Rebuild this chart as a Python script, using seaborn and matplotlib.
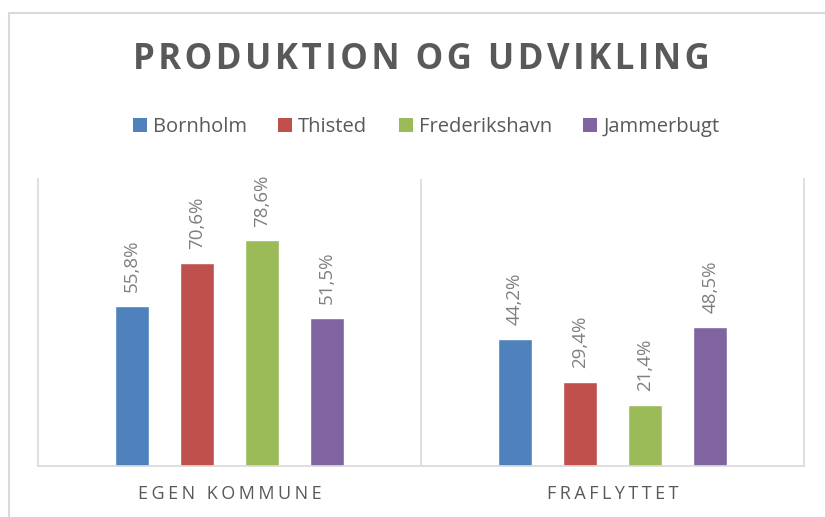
import pandas as pd
import matplotlib.pyplot as plt
import seaborn as sns
from matplotlib.patches import Patch, Rectangle

# Data
categories = ['EGEN KOMMUNE', 'FRAFLYTTET']
regions = ['Bornholm', 'Thisted', 'Frederikshavn', 'Jammerbugt']
bornholm = [55.8, 44.2]
thisted = [70.6, 29.4]
frederikshavn = [78.6, 21.4]
jammerbugt = [51.5, 48.5]
colors = ['#4F81BD', '#C0504D', '#9BBB59', '#8064A2']

rows = []
for region, vals in zip(regions, [bornholm, thisted, frederikshavn, jammerbugt]):
    for cat, v in zip(categories, vals):
        rows.append({'category': cat, 'region': region, 'value': v})
df = pd.DataFrame(rows)

sns.set_style('white')
plt.rcParams['font.family'] = ['Open Sans', 'DejaVu Sans']

fig = plt.figure(figsize=(8.25, 5.17), dpi=100)
ax = fig.add_axes([38 / 825, 1 - 466 / 517, (804 - 38) / 825, (466 - 179) / 517])

sns.barplot(data=df, x='category', y='value', hue='region', order=categories,
            hue_order=regions, palette=colors, saturation=1, width=0.68, gap=0.47,
            errorbar=None, legend=False, ax=ax)

# Value labels, rotated like the original
for container in ax.containers:
    ax.bar_label(container, labels=[f'{v:.1f}%'.replace('.', ',') for v in container.datavalues],
                 rotation=90, padding=10, color='#7f7f7f', fontsize=13.5)

ax.set_ylim(0, 100)
ax.set_xlim(-0.5, 1.5)
ax.set_yticks([])
ax.set_xlabel('')
ax.set_ylabel('')

# Letter-spaced category labels
spaced = ['\u200a\u200a'.join(c) for c in categories]
ax.set_xticks(range(len(categories)))
ax.set_xticklabels(spaced, fontsize=13, color='#595959')
ax.tick_params(axis='x', length=0, pad=14)

grid = '#d9d9d9'
for side in ['left', 'right', 'bottom']:
    ax.spines[side].set_color(grid)
    ax.spines[side].set_linewidth(1.2)
ax.spines['top'].set_visible(False)
ax.axvline(0.5, color=grid, lw=1.2, zorder=0)

# Title
fig.text(421 / 825, 1 - 60 / 517, '\u200a'.join('PRODUKTION OG UDVIKLING'),
         ha='center', va='center', fontsize=25, fontweight='bold', color='#595959')

# Legend
handles = [Patch(facecolor=c, edgecolor='none') for c in colors]
fig.legend(handles, regions, loc='center', bbox_to_anchor=(426 / 825, 1 - 127 / 517),
           ncol=4, frameon=False, fontsize=14.5, handlelength=0.7, handleheight=0.7,
           handletextpad=0.3, columnspacing=1.55, labelcolor='#595959')

# Outer chart border
fig.patches.append(Rectangle((8.5 / 825, -0.1), 1.2, 1 - 12.5 / 517 + 0.1,
                             transform=fig.transFigure, fill=False,
                             edgecolor=grid, lw=1.5))

plt.savefig('out.png', dpi=100)
